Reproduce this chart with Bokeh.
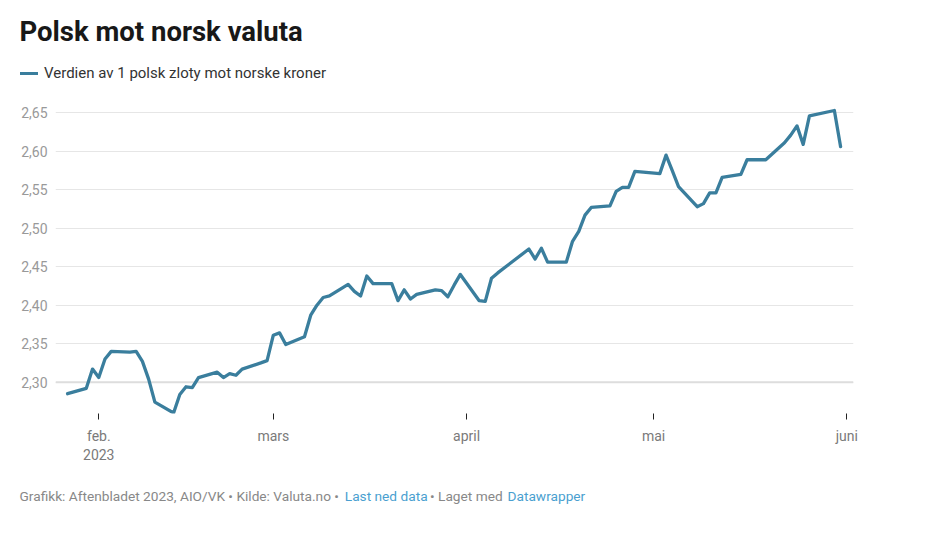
import pandas as pd
from bokeh.plotting import figure
from bokeh.models import FixedTicker, Label, Legend, LegendItem, Span, Range1d
from bokeh.embed import file_html
from bokeh.resources import INLINE

# ---- data ----
dates = [
    "2023-01-27", "2023-01-30", "2023-01-31", "2023-02-01", "2023-02-02", "2023-02-03",
    "2023-02-06", "2023-02-07", "2023-02-08", "2023-02-09", "2023-02-10",
    "2023-02-13", "2023-02-14", "2023-02-15", "2023-02-16", "2023-02-17",
    "2023-02-20", "2023-02-21", "2023-02-22", "2023-02-23", "2023-02-24",
    "2023-02-27", "2023-02-28", "2023-03-01", "2023-03-02", "2023-03-03",
    "2023-03-06", "2023-03-07", "2023-03-08", "2023-03-09", "2023-03-10",
    "2023-03-13", "2023-03-14", "2023-03-15", "2023-03-16", "2023-03-17",
    "2023-03-20", "2023-03-21", "2023-03-22", "2023-03-23", "2023-03-24",
    "2023-03-27", "2023-03-28", "2023-03-29", "2023-03-30", "2023-03-31",
    "2023-04-03", "2023-04-04", "2023-04-05", "2023-04-06",
    "2023-04-11", "2023-04-12", "2023-04-13", "2023-04-14",
    "2023-04-17", "2023-04-18", "2023-04-19", "2023-04-20", "2023-04-21",
    "2023-04-24", "2023-04-25", "2023-04-26", "2023-04-27", "2023-04-28",
    "2023-05-02", "2023-05-03", "2023-05-04", "2023-05-05",
    "2023-05-08", "2023-05-09", "2023-05-10", "2023-05-11", "2023-05-12",
    "2023-05-15", "2023-05-16", "2023-05-19",
    "2023-05-22", "2023-05-23", "2023-05-24", "2023-05-25", "2023-05-26",
    "2023-05-30", "2023-05-31",
]
values = [
    2.285, 2.292, 2.317, 2.306, 2.330, 2.340,
    2.339, 2.340, 2.327, 2.304, 2.274,
    2.260, 2.284, 2.294, 2.293, 2.306,
    2.313, 2.306, 2.311, 2.309, 2.317,
    2.325, 2.328, 2.361, 2.364, 2.349,
    2.359, 2.387, 2.400, 2.410, 2.412,
    2.427, 2.418, 2.412, 2.438, 2.428,
    2.428, 2.406, 2.420, 2.408, 2.414,
    2.420, 2.419, 2.411, 2.426, 2.440,
    2.406, 2.405, 2.435, 2.442,
    2.473, 2.460, 2.474, 2.456,
    2.456, 2.483, 2.496, 2.517, 2.527,
    2.529, 2.548, 2.553, 2.553, 2.574,
    2.571, 2.595, 2.575, 2.554,
    2.528, 2.532, 2.546, 2.546, 2.566,
    2.570, 2.589, 2.589,
    2.611, 2.621, 2.633, 2.609, 2.646,
    2.653, 2.606,
]
x_tick_dates = ["2023-02-01", "2023-03-01", "2023-04-01", "2023-05-01", "2023-06-01"]
x_tick_labels = ["feb.\n2023", "mars", "april", "mai", "juni"]
y_ticks = [2.30, 2.35, 2.40, 2.45, 2.50, 2.55, 2.60, 2.65]
y_tick_labels = ["2,30", "2,35", "2,40", "2,45", "2,50", "2,55", "2,60", "2,65"]

title_text = "Polsk mot norsk valuta"
legend_text = "Verdien av 1 polsk zloty mot norske kroner"
footer_parts = [
    ("Grafikk: Aftenbladet 2023, AIO/VK \u2022 Kilde: Valuta.no \u2022", "#888888"),
    ("Last ned data", "#4a9fd0"),
    ("\u2022 Laget med", "#888888"),
    ("Datawrapper", "#4a9fd0"),
]

# ---- layout (page pixels) ----
W = 930
HEAD_H = 95          # page 0 .. 95
MAIN_H = 375         # page 95 .. 470
FOOT_H = 60          # page 470 .. 530
FRAME_L, FRAME_R = 55, 853
FRAME_T, FRAME_B = 100, 413       # page y
LINE_COLOR = "#3a7e9d"
FONT = "Roboto"
BASELINE_FIX = 0.38   # svg alphabetic-baseline correction (em)


def blank_fig(h):
    f = figure(width=W, height=h, output_backend="svg", toolbar_location=None,
               x_range=Range1d(0, W), y_range=Range1d(0, h),
               x_axis_location=None, y_axis_location=None,
               min_border=0, min_border_left=0, min_border_right=0,
               min_border_top=0, min_border_bottom=0)
    f.grid.visible = False
    f.outline_line_color = None
    f.background_fill_color = "white"
    f.border_fill_color = "white"
    return f


def add_label(f, h, text, px, py_local, size, color, style="normal"):
    y = h - py_local + BASELINE_FIX * size
    f.add_layout(Label(x=px, y=y, x_units="screen", y_units="screen",
                       text=text, text_font=FONT, text_font_size=f"{size}px",
                       text_color=color, text_font_style=style,
                       text_baseline="alphabetic", text_align="left"))


# ---- header: title + legend ----
head = blank_fig(HEAD_H)
add_label(head, HEAD_H, title_text, 19, 41.7, 27.5, "#181818", "bold")
swatch = head.line(x=[-100, -90], y=[-100, -100], line_width=3,
                   line_color=LINE_COLOR, line_cap="round")
legend = Legend(items=[LegendItem(label=legend_text, renderers=[swatch])],
                location=(20, HEAD_H - 83), padding=0, margin=0, spacing=0,
                glyph_width=18, glyph_height=20, label_height=20,
                label_standoff=6, border_line_color=None,
                background_fill_alpha=0,
                label_text_font=FONT, label_text_font_size="15px",
                label_text_color="#333333")
head.add_layout(legend)

# ---- main chart ----
t = pd.to_datetime(dates)
feb1 = pd.Timestamp("2023-02-01")
day = pd.Timedelta(days=1)
x_start = feb1 - 6.94 * day
x_end = feb1 + 121.07 * day

px_per_unit = 769.6
y_end = 2.65 + (112.3 - FRAME_T) / px_per_unit
y_start = y_end - (FRAME_B - FRAME_T) / px_per_unit

p = figure(
    width=W, height=MAIN_H, output_backend="svg", toolbar_location=None,
    x_axis_type="datetime",
    x_range=Range1d(x_start, x_end), y_range=Range1d(y_start, y_end),
    min_border_left=FRAME_L, min_border_right=W - FRAME_R,
    min_border_top=FRAME_T - HEAD_H,
    min_border_bottom=HEAD_H + MAIN_H - FRAME_B,
)
p.outline_line_color = None
p.background_fill_color = "white"
p.border_fill_color = "white"


def ms(d):
    return pd.Timestamp(d).value / 1e6


xt = [ms(d) for d in x_tick_dates]
p.xaxis.ticker = FixedTicker(ticks=xt)
p.xaxis.major_label_overrides = {k: v for k, v in zip(xt, x_tick_labels)}
p.xaxis.axis_line_color = None
p.xaxis.major_tick_in = 0
p.xaxis.major_tick_out = 6
p.xaxis.major_tick_line_color = "#222222"
p.xaxis.major_tick_line_width = 1
p.xaxis.minor_tick_line_color = None
p.xaxis.major_label_standoff = 8
p.xaxis.major_label_text_font = FONT
p.xaxis.major_label_text_font_size = "14px"
p.xaxis.major_label_text_color = "#7a7a7a"

p.yaxis.ticker = FixedTicker(ticks=y_ticks)
p.yaxis.major_label_overrides = {k: v for k, v in zip(y_ticks, y_tick_labels)}
p.yaxis.axis_line_color = None
p.yaxis.major_tick_line_color = None
p.yaxis.minor_tick_line_color = None
p.yaxis.major_tick_in = 0
p.yaxis.major_tick_out = 0
p.yaxis.major_label_standoff = 8
p.yaxis.major_label_text_font = FONT
p.yaxis.major_label_text_font_size = "14px"
p.yaxis.major_label_text_color = "#999999"

p.xgrid.grid_line_color = None
p.ygrid.grid_line_color = "#e6e6e6"
p.ygrid.grid_line_width = 1

base = Span(location=y_ticks[0], dimension="width", line_color="#dddddd",
            line_width=2, level="underlay")
p.add_layout(base)

p.line(t, values, line_width=3.3, line_color=LINE_COLOR, line_join="round",
       line_cap="round")

# ---- footer ----
foot = blank_fig(FOOT_H)
footer_x = [19, 344.3, 429.5, 507]
for (txt, col), fx in zip(footer_parts, footer_x):
    add_label(foot, FOOT_H, txt, fx, 500.7 - (HEAD_H + MAIN_H), 13.7, col)

# separate roots, stacked in page flow (no frame alignment between them)
open("out.html", "w").write(file_html([head, p, foot], INLINE))
